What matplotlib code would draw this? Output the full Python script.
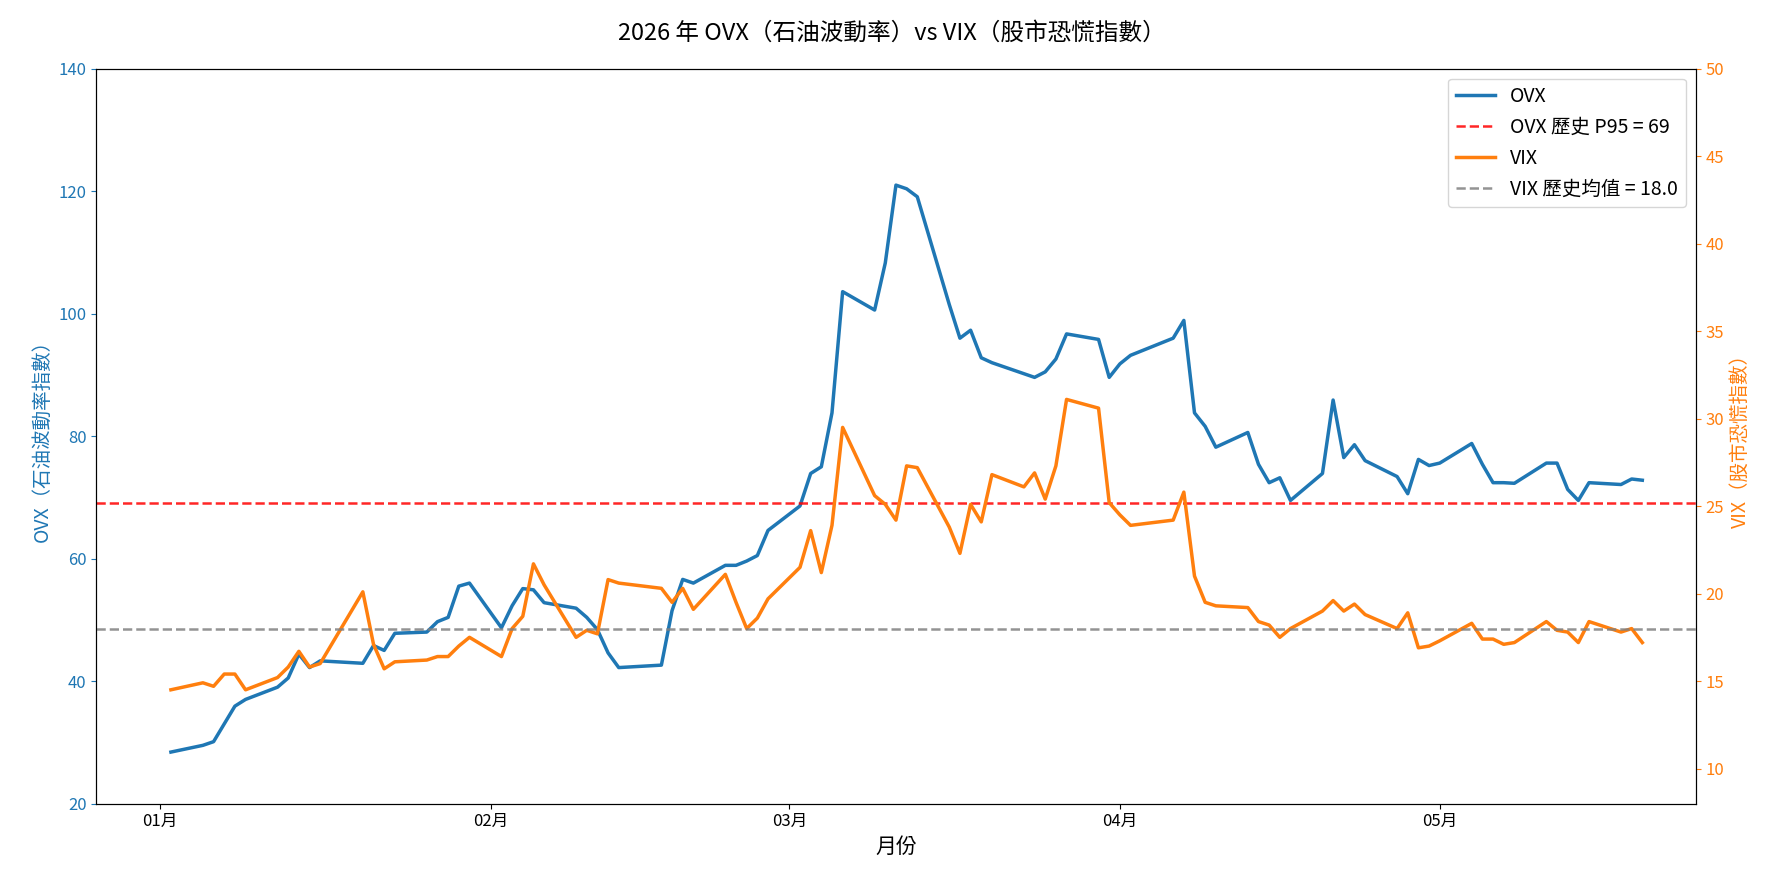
import matplotlib.pyplot as plt
import matplotlib.dates as mdates
import pandas as pd

plt.rcParams['font.family'] = ['Noto Sans CJK TC', 'DejaVu Sans']

dates = ["2026-01-02", "2026-01-05", "2026-01-06", "2026-01-07", "2026-01-08", "2026-01-09",
         "2026-01-12", "2026-01-13", "2026-01-14", "2026-01-15", "2026-01-16",
         "2026-01-20", "2026-01-21", "2026-01-22", "2026-01-23",
         "2026-01-26", "2026-01-27", "2026-01-28", "2026-01-29", "2026-01-30",
         "2026-02-02", "2026-02-03", "2026-02-04", "2026-02-05", "2026-02-06",
         "2026-02-09", "2026-02-10", "2026-02-11", "2026-02-12", "2026-02-13",
         "2026-02-17", "2026-02-18", "2026-02-19", "2026-02-20",
         "2026-02-23", "2026-02-24", "2026-02-25", "2026-02-26", "2026-02-27",
         "2026-03-02", "2026-03-03", "2026-03-04", "2026-03-05", "2026-03-06",
         "2026-03-09", "2026-03-10", "2026-03-11", "2026-03-12", "2026-03-13",
         "2026-03-16", "2026-03-17", "2026-03-18", "2026-03-19", "2026-03-20",
         "2026-03-23", "2026-03-24", "2026-03-25", "2026-03-26", "2026-03-27",
         "2026-03-30", "2026-03-31", "2026-04-01", "2026-04-02",
         "2026-04-06", "2026-04-07", "2026-04-08", "2026-04-09", "2026-04-10",
         "2026-04-13", "2026-04-14", "2026-04-15", "2026-04-16", "2026-04-17",
         "2026-04-20", "2026-04-21", "2026-04-22", "2026-04-23", "2026-04-24",
         "2026-04-27", "2026-04-28", "2026-04-29", "2026-04-30", "2026-05-01",
         "2026-05-04", "2026-05-05", "2026-05-06", "2026-05-07", "2026-05-08",
         "2026-05-11", "2026-05-12", "2026-05-13", "2026-05-14", "2026-05-15",
         "2026-05-18", "2026-05-19", "2026-05-20"]

ovx = [28.4, 29.5, 30.1, 33.0, 35.9, 37.0,
       39.0, 40.5, 44.4, 42.2, 43.3,
       42.9, 45.8, 45.0, 47.8,
       48.0, 49.7, 50.4, 55.5, 56.0,
       48.7, 52.3, 55.1, 54.9, 52.8,
       51.9, 50.4, 48.4, 44.6, 42.2,
       42.6, 51.5, 56.6, 56.0,
       58.9, 58.9, 59.6, 60.5, 64.6,
       68.6, 73.9, 75.0, 83.8, 103.6,
       100.6, 108.3, 121.0, 120.4, 119.1,
       101.5, 96.0, 97.3, 92.8, 92.0,
       90.2, 89.6, 90.5, 92.6, 96.7,
       95.8, 89.6, 91.8, 93.2,
       96.0, 98.9, 83.8, 81.6, 78.2,
       80.6, 75.4, 72.4, 73.2, 69.5,
       73.9, 85.9, 76.5, 78.6, 76.0,
       73.4, 70.6, 76.2, 75.2, 75.6,
       78.8, 75.4, 72.4, 72.4, 72.3,
       75.6, 75.6, 71.3, 69.5, 72.4,
       72.1, 73.0, 72.8]

vix = [14.5, 14.9, 14.7, 15.4, 15.4, 14.5,
       15.2, 15.8, 16.7, 15.8, 16.0,
       20.1, 17.1, 15.7, 16.1,
       16.2, 16.4, 16.4, 17.0, 17.5,
       16.4, 18.0, 18.7, 21.7, 20.5,
       17.5, 17.9, 17.7, 20.8, 20.6,
       20.3, 19.5, 20.3, 19.1,
       21.1, 19.5, 18.0, 18.6, 19.7,
       21.5, 23.6, 21.2, 23.9, 29.5,
       25.6, 25.1, 24.2, 27.3, 27.2,
       23.8, 22.3, 25.1, 24.1, 26.8,
       26.1, 26.9, 25.4, 27.3, 31.1,
       30.6, 25.2, 24.5, 23.9,
       24.2, 25.8, 21.0, 19.5, 19.3,
       19.2, 18.4, 18.2, 17.5, 18.0,
       19.0, 19.6, 19.0, 19.4, 18.8,
       18.0, 18.9, 16.9, 17.0, 17.3,
       18.3, 17.4, 17.4, 17.1, 17.2,
       18.4, 17.9, 17.8, 17.2, 18.4,
       17.8, 18.0, 17.2]

ovx_p95 = 69
vix_mean = 18.0

x = pd.to_datetime(dates)

fig, ax = plt.subplots(figsize=(17.83, 8.82), dpi=100)
fig.subplots_adjust(left=0.054, right=0.951, top=0.922, bottom=0.089)
ax2 = ax.twinx()

l1, = ax.plot(x, ovx, color='#1f77b4', lw=2.5, label='OVX')
l2 = ax.axhline(ovx_p95, color='red', ls='--', lw=1.8, alpha=0.85, label=f'OVX 歷史 P95 = {ovx_p95}')
l3, = ax2.plot(x, vix, color='#ff7f0e', lw=2.5, label='VIX')
l4 = ax2.axhline(vix_mean, color='gray', ls='--', lw=1.8, alpha=0.85, label=f'VIX 歷史均值 = {vix_mean:.1f}')

ax.set_ylim(20, 140)
ax2.set_ylim(8, 50)
ax.set_xlim(pd.Timestamp("2025-12-26"), pd.Timestamp("2026-05-25"))
ax.xaxis.set_major_locator(mdates.MonthLocator())
ax.xaxis.set_major_formatter(mdates.DateFormatter('%m月'))

ax.set_ylabel('OVX（石油波動率指數）', color='#1f77b4', fontsize=14)
ax2.set_ylabel('VIX（股市恐慌指數）', color='#ff7f0e', fontsize=14)
ax.tick_params(axis='y', colors='#1f77b4', labelsize=12)
ax2.tick_params(axis='y', colors='#ff7f0e', labelsize=12)
ax.tick_params(axis='x', labelsize=12)
ax.set_xlabel('月份', fontsize=15)

ax.legend(handles=[l1, l2, l3, l4], loc='upper right', fontsize=14)
fig.suptitle('2026 年 OVX（石油波動率）vs VIX（股市恐慌指數）', fontsize=17, y=0.975)

plt.savefig('out.png')
